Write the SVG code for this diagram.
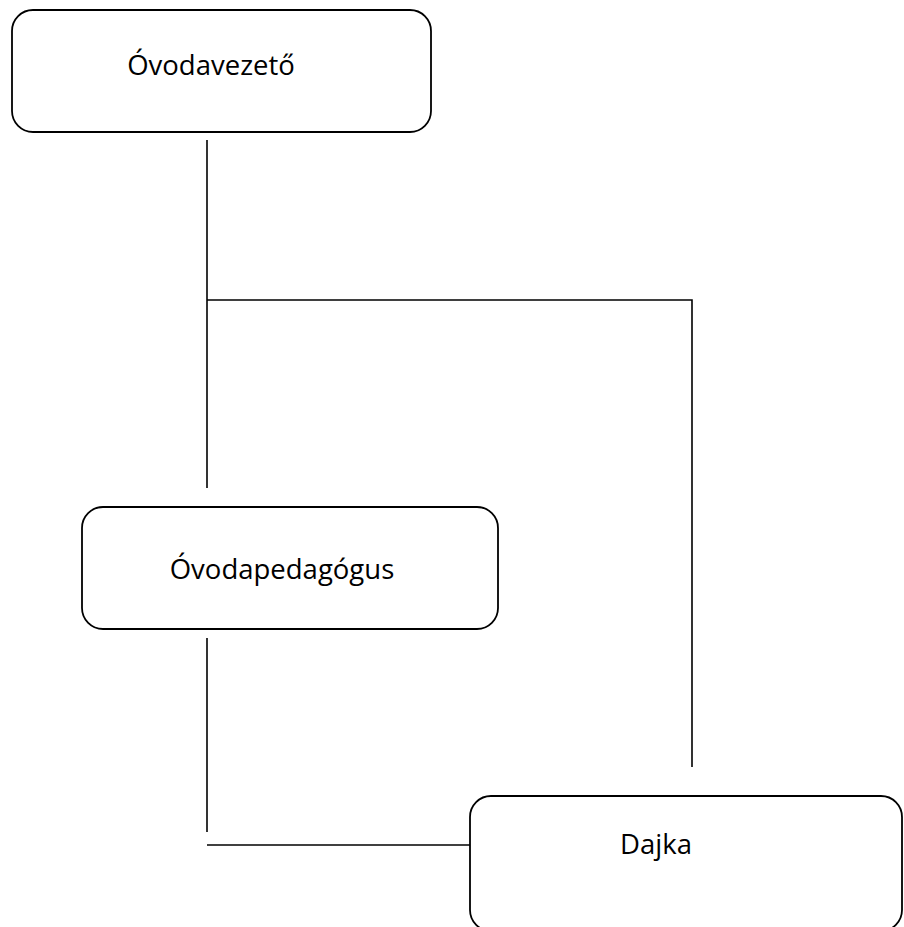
<svg xmlns="http://www.w3.org/2000/svg" width="904" height="927" viewBox="0 0 904 927">
<style>
.box{fill:#fff;stroke:#000;stroke-width:1.8}
.lbl{font-family:"Open Sans","Noto Sans",sans-serif;font-size:27.5px;fill:#000;text-anchor:middle}
.ln{stroke:#000;stroke-width:1.6;fill:none}
</style>
<rect width="904" height="927" fill="#fff"/>
<g id="connectors">
<line class="ln" x1="207" y1="140" x2="207" y2="488"/>
<polyline class="ln" points="207,300 692,300 692,767"/>
<line class="ln" x1="207" y1="638" x2="207" y2="832"/>
<line class="ln" x1="207" y1="845" x2="470" y2="845"/>
</g>
<g id="node-ovodavezeto">
<rect class="box" x="12" y="10" width="419" height="122" rx="21"/>
<text class="lbl" x="211" y="75">Óvodavezető</text>
</g>
<g id="node-ovodapedagogus">
<rect class="box" x="82" y="507" width="416" height="122" rx="21"/>
<text class="lbl" x="282" y="579">Óvodapedagógus</text>
</g>
<g id="node-dajka">
<rect class="box" x="470" y="796" width="432" height="135" rx="21"/>
<text class="lbl" x="656" y="854">Dajka</text>
</g>
</svg>
